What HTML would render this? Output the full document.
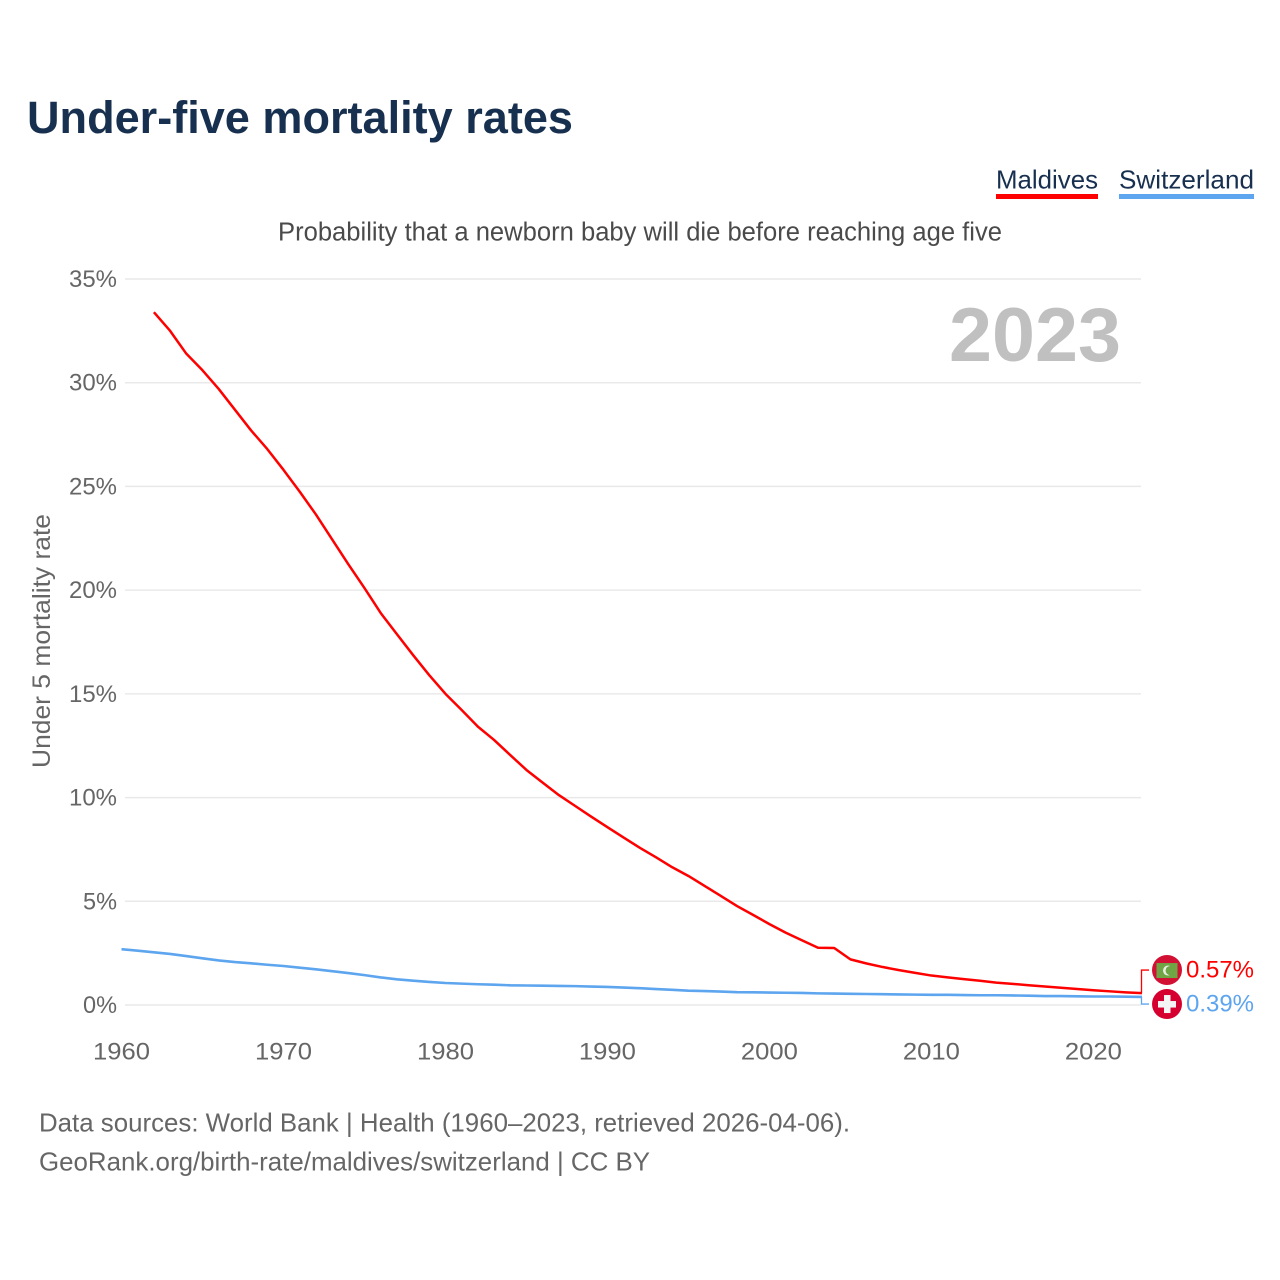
<!DOCTYPE html>
<html lang="en">
<head>
<meta charset="utf-8">
<title>Under-five mortality rates</title>
<style>
html,body{margin:0;padding:0;background:#fff;width:1280px;height:1280px;overflow:hidden}
svg{display:block}
text{font-family:"Liberation Sans",sans-serif}
</style>
</head>
<body>
<svg id="chart" width="1280" height="1280" viewBox="0 0 1280 1280" xmlns="http://www.w3.org/2000/svg">
  <rect width="1280" height="1280" fill="#fff"/>
  <text x="27" y="133" font-size="45" font-weight="700" fill="#18304f" textLength="546" lengthAdjust="spacingAndGlyphs">Under-five mortality rates</text>

  <g>
    <text x="996" y="188.5" font-size="26" fill="#18304f" textLength="102" lengthAdjust="spacingAndGlyphs">Maldives</text>
    <rect x="996" y="194" width="102" height="5" fill="#ff0000"/>
  </g>
  <g>
    <text x="1119" y="188.5" font-size="26" fill="#18304f" textLength="135" lengthAdjust="spacingAndGlyphs">Switzerland</text>
    <rect x="1119" y="194" width="135" height="5" fill="#5da5ee"/>
  </g>

  <text x="278" y="240.5" font-size="25.5" fill="#4a4a4a" textLength="724" lengthAdjust="spacingAndGlyphs">Probability that a newborn baby will die before reaching age five</text>

  <g id="grid"></g>
  <g id="yticks"></g>
  <g id="xticks"></g>

  <text transform="translate(50 768) rotate(-90)" x="0" y="0" font-size="25" fill="#666" textLength="254" lengthAdjust="spacingAndGlyphs">Under 5 mortality rate</text>

  <text x="949" y="361" font-size="76" font-weight="700" fill="#c0c0c0" textLength="172" lengthAdjust="spacingAndGlyphs">2023</text>

  <g id="series"></g>
  <g id="endlabels"></g>

  <text x="39" y="1131.5" font-size="26" fill="#666" textLength="811" lengthAdjust="spacingAndGlyphs">Data sources: World Bank | Health (1960–2023, retrieved 2026-04-06).</text>
  <text x="39" y="1170.5" font-size="26" fill="#666" textLength="611" lengthAdjust="spacingAndGlyphs">GeoRank.org/birth-rate/maldives/switzerland | CC BY</text>
</svg>
<script>
const yTickValues = [0, 5, 10, 15, 20, 25, 30, 35];
const xTickYears = [1960, 1970, 1980, 1990, 2000, 2010, 2020];
const maldivesYears = [1962,1963,1964,1965,1966,1967,1968,1969,1970,1971,1972,1973,1974,1975,1976,1977,1978,1979,1980,1981,1982,1983,1984,1985,1986,1987,1988,1989,1990,1991,1992,1993,1994,1995,1996,1997,1998,1999,2000,2001,2002,2003,2004,2005,2006,2007,2008,2009,2010,2011,2012,2013,2014,2015,2016,2017,2018,2019,2020,2021,2022,2023];
const maldivesValues = [33.4,32.5,31.4,30.6,29.7,28.7,27.7,26.8,25.8,24.75,23.65,22.45,21.25,20.1,18.9,17.88,16.87,15.9,15.0,14.22,13.42,12.78,12.05,11.33,10.72,10.12,9.6,9.08,8.57,8.07,7.58,7.12,6.64,6.22,5.74,5.26,4.77,4.34,3.9,3.49,3.12,2.76,2.75,2.2,2.0,1.83,1.68,1.55,1.42,1.33,1.25,1.17,1.08,1.02,0.95,0.89,0.83,0.77,0.71,0.66,0.61,0.57];
const switzerlandYears = [1960,1961,1962,1963,1964,1965,1966,1967,1968,1969,1970,1971,1972,1973,1974,1975,1976,1977,1978,1979,1980,1981,1982,1983,1984,1985,1986,1987,1988,1989,1990,1991,1992,1993,1994,1995,1996,1997,1998,1999,2000,2001,2002,2003,2004,2005,2006,2007,2008,2009,2010,2011,2012,2013,2014,2015,2016,2017,2018,2019,2020,2021,2022,2023];
const switzerlandValues = [2.69,2.62,2.54,2.46,2.36,2.25,2.15,2.07,2.01,1.94,1.88,1.8,1.72,1.63,1.54,1.44,1.33,1.24,1.17,1.11,1.06,1.03,1.0,0.98,0.95,0.94,0.93,0.92,0.91,0.89,0.87,0.84,0.81,0.77,0.73,0.69,0.67,0.65,0.62,0.61,0.6,0.59,0.58,0.56,0.55,0.54,0.53,0.52,0.51,0.5,0.49,0.49,0.48,0.47,0.47,0.46,0.45,0.43,0.43,0.42,0.41,0.41,0.4,0.39];

const NS = 'http://www.w3.org/2000/svg';
const X0 = 121.5, X1 = 1142, Y0 = 1005, Y35 = 279;
function xScale(year) { return X0 + (year - 1960) * (X1 - X0) / (2023 - 1960); }
function yScale(value) { return Y0 - value * (Y0 - Y35) / 35; }
function mk(tag, attrs, parent, txt) {
  const el = document.createElementNS(NS, tag);
  for (const k in attrs) el.setAttribute(k, attrs[k]);
  if (txt !== undefined) el.textContent = txt;
  parent.appendChild(el);
  return el;
}
const gridG = document.getElementById('grid');
const yG = document.getElementById('yticks');
const xG = document.getElementById('xticks');
const sG = document.getElementById('series');
const eG = document.getElementById('endlabels');

yTickValues.forEach(function (v) {
  const line = mk('line', {x1: 125, x2: 1141, y1: yScale(v), y2: yScale(v), stroke: '#e9e9e9', 'stroke-width': 1.5}, gridG);
  
  
  const label = String(v) + '%';
  const t = mk('text', {x: 117, y: yScale(v) + 8, 'text-anchor': 'end', 'font-size': 24.5, fill: '#666', textLength: label.length === 3 ? 48 : 34, lengthAdjust: 'spacingAndGlyphs'}, yG, label);
  
  
});
xTickYears.forEach(function (yr) {
  const t = mk('text', {x: xScale(yr), y: 1059.5, 'text-anchor': 'middle', 'font-size': 24.5, fill: '#666', textLength: 57, lengthAdjust: 'spacingAndGlyphs'}, xG, String(yr));
  
  
});

function pathFor(years, values) {
  return values.map(function (v, i) {
    return (i ? 'L' : 'M') + xScale(years[i]).toFixed(2) + ' ' + yScale(v).toFixed(2);
  }).join(' ');
}
const switzerlandLine = mk('path', {d: pathFor(switzerlandYears, switzerlandValues), fill: 'none', stroke: '#5da5ee', 'stroke-width': 2.6, 'stroke-linejoin': 'round'}, sG);


const maldivesLine = mk('path', {d: pathFor(maldivesYears, maldivesValues), fill: 'none', stroke: '#ff0000', 'stroke-width': 2.5, 'stroke-linejoin': 'round'}, sG);



const lastM = maldivesValues[maldivesValues.length - 1];
const lastS = switzerlandValues[switzerlandValues.length - 1];
const midY = (yScale(lastM) + yScale(lastS)) / 2;
const labelYM = midY - 25, labelYS = midY + 9;
const xEnd = 1141.5;

const connM = mk('path', {d: 'M' + xEnd + ' ' + yScale(lastM) + ' V' + labelYM + ' H1149', fill: 'none', stroke: '#ff0000', 'stroke-width': 1.3}, eG);


const connS = mk('path', {d: 'M' + xEnd + ' ' + yScale(lastS) + ' V' + labelYS + ' H1149', fill: 'none', stroke: '#5da5ee', 'stroke-width': 1.3}, eG);



const flagM = mk('g', {transform: 'translate(1167 ' + labelYM + ')'}, eG);


mk('circle', {r: 15, fill: '#d21034'}, flagM);
mk('rect', {x: -10.5, y: -7, width: 21, height: 15, fill: '#6fa544'}, flagM);
mk('circle', {cx: 1, cy: 0.5, r: 5, fill: '#e8efe2'}, flagM);
mk('circle', {cx: 3.2, cy: 0.5, r: 4.6, fill: '#6fa544'}, flagM);

const flagS = mk('g', {transform: 'translate(1167 ' + labelYS + ')'}, eG);


mk('circle', {r: 15, fill: '#d5002f'}, flagS);
mk('rect', {x: -9, y: -3, width: 18, height: 6.5, fill: '#f4f4f4'}, flagS);
mk('rect', {x: -3, y: -9, width: 6.5, height: 18, fill: '#f4f4f4'}, flagS);

const valM = mk('text', {x: 1186, y: labelYM + 7.5, 'font-size': 24.5, fill: '#ff0000', textLength: 68, lengthAdjust: 'spacingAndGlyphs'}, eG, lastM.toFixed(2) + '%');


const valS = mk('text', {x: 1186, y: labelYS + 7.5, 'font-size': 24.5, fill: '#5da5ee', textLength: 68, lengthAdjust: 'spacingAndGlyphs'}, eG, lastS.toFixed(2) + '%');


</script>
</body>
</html>
